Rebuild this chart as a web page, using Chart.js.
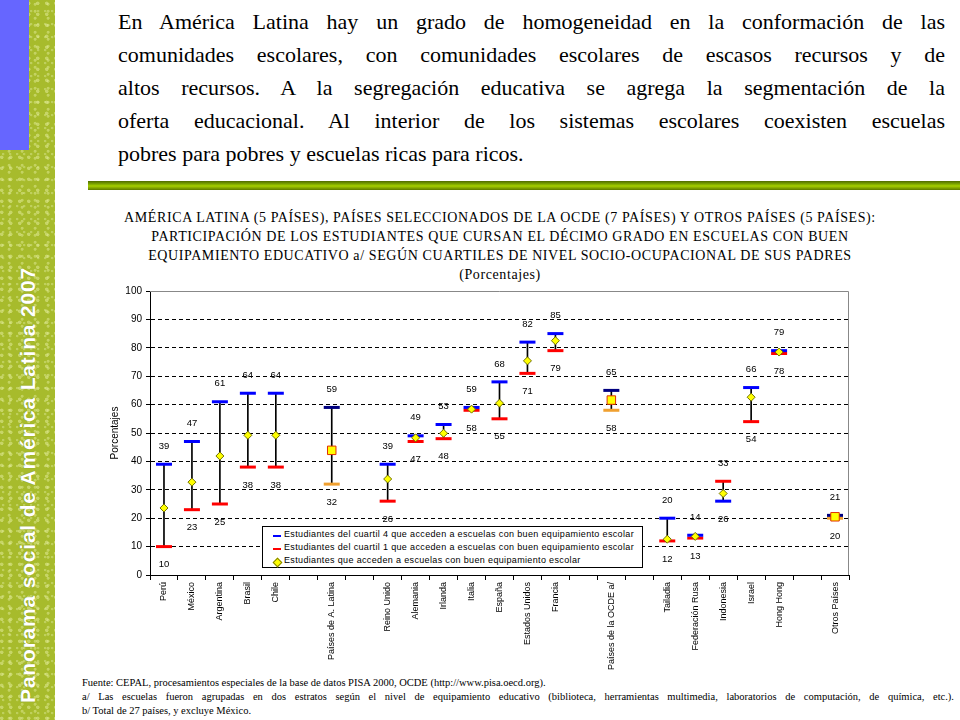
<!DOCTYPE html>
<html>
<head>
<meta charset="utf-8">
<script src="https://cdn.jsdelivr.net/npm/chart.js@4.4.1/dist/chart.umd.min.js"></script>
<style>
  html, body { margin: 0; padding: 0; background: #fff; }
  body { width: 960px; height: 720px; position: relative; overflow: hidden; }
  .abs { position: absolute; }
  .serif { font-family: "Liberation Serif", Tinos, "DejaVu Serif", "Noto Serif", "Times New Roman", Times, serif; }
  #sidebar { left: 0; top: 0; width: 55px; height: 720px; background-color: #A7BB2C;
    background-image:
      radial-gradient(circle at 20% 30%, rgba(225,235,150,0.55) 0 1.5px, transparent 2px),
      radial-gradient(circle at 70% 60%, rgba(225,235,150,0.5) 0 1.2px, transparent 1.8px),
      radial-gradient(circle at 45% 85%, rgba(215,228,140,0.5) 0 1px, transparent 1.6px);
    background-size: 9px 11px, 13px 7px, 7px 13px; }
  #bluebox { left: 0; top: 0; width: 29px; height: 150px; background: #6666FF; }
  #sidetext { left: 28px; top: 485px; transform: translate(-50%, -50%) rotate(-90deg);
    white-space: nowrap; color: #fff; font: bold 21px Arial, "Liberation Sans", sans-serif; letter-spacing: 0.8px;
    text-shadow: 0 0 1px rgba(60,70,0,0.4); }
  #para { left: 118px; top: 5px; width: 827px; font-size: 22px;
    line-height: 33px; color: #000; }
  #para div { white-space: nowrap; }
  #para div.j { text-align: justify; text-align-last: justify; white-space: normal; }
  #rule { left: 88px; top: 181px; width: 872px; height: 9px;
    background: linear-gradient(#4E6A00 0%, #7FA800 35%, #A6D000 55%, #7FA000 80%, #5C7A00 100%); }
  #ctitle { left: 60px; top: 208px; width: 880px; font-size: 14px; letter-spacing: 0.6px;
    line-height: 19px; text-align: center; color: #000; }
  #legend { left: 262px; top: 526px; width: 379px; height: 40px; border: 1px solid #000; background: #fff;
    font: 9px Arial, "Liberation Sans", sans-serif; color: #000; letter-spacing: 0.35px; }
  .lrow { position: absolute; left: 21px; white-space: nowrap; }
  .mk { position: absolute; }
  #notes { left: 82px; top: 676px; width: 872px; font-size: 10.5px;
    line-height: 14px; color: #000; }
  .just { text-align: justify; text-align-last: justify; }
  #chartwrap { left: 90px; top: 280px; width: 770px; height: 390px; }
</style>
</head>
<body>
<div id="sidebar" class="abs"></div>
<div id="bluebox" class="abs"></div>
<div id="sidetext" class="abs">Panorama social de América Latina  2007</div>

<div id="para" class="abs serif">
  <div class="j">En América Latina hay un grado de homogeneidad en la conformación de las</div>
  <div class="j">comunidades escolares, con comunidades escolares de escasos recursos y de</div>
  <div class="j">altos recursos. A la segregación educativa se agrega la segmentación de la</div>
  <div class="j">oferta educacional. Al interior de los sistemas escolares coexisten escuelas</div>
  <div>pobres para pobres y escuelas ricas para ricos.</div>
</div>
<div id="rule" class="abs"></div>

<div id="ctitle" class="abs serif">AMÉRICA LATINA (5 PAÍSES), PAÍSES SELECCIONADOS DE LA OCDE (7 PAÍSES) Y OTROS PAÍSES (5 PAÍSES):<br>PARTICIPACIÓN DE LOS ESTUDIANTES QUE CURSAN EL DÉCIMO GRADO EN ESCUELAS CON BUEN<br>EQUIPAMIENTO EDUCATIVO a/ SEGÚN CUARTILES DE NIVEL SOCIO-OCUPACIONAL DE SUS PADRES<br>(Porcentajes)</div>

<div id="chartwrap" class="abs"><canvas id="c" width="770" height="390"></canvas></div>

<div id="legend" class="abs">
  <div class="mk" style="left:10px;top:8px;width:8px;height:2px;background:#0000FF"></div>
  <div class="lrow" style="top:2px">Estudiantes del cuartil 4 que acceden a escuelas con buen equipamiento escolar</div>
  <div class="mk" style="left:10px;top:21px;width:8px;height:2px;background:#FF0000"></div>
  <div class="lrow" style="top:15px">Estudiantes del cuartil 1 que acceden a escuelas con buen equipamiento escolar</div>
  <div class="mk" style="left:11px;top:32px;width:5px;height:5px;background:#FFFF00;border:1px solid #808000;transform:rotate(45deg)"></div>
  <div class="lrow" style="top:28px">Estudiantes que acceden a escuelas con buen equipamiento escolar</div>
</div>

<div id="notes" class="abs serif">
  <div>Fuente: CEPAL, procesamientos  especiales de la base de datos PISA 2000, OCDE (http://www.pisa.oecd.org).</div>
  <div class="just">a/ Las escuelas  fueron agrupadas en dos estratos según el nivel de equipamiento educativo (biblioteca, herramientas multimedia, laboratorios de computación, de química, etc.).</div>
  <div>b/ Total  de 27 países, y excluye  México.</div>
</div>

<script>
// ---- Data ----
const categories = ['Perú','México','Argentina','Brasil','Chile','','Países de A. Latina','','Reino Unido','Alemania','Irlanda','Italia','España','Estados Unidos','Francia','','Países de la OCDE a/','','Tailadia','Federación Rusa','Indonesia','Israel','Hong Hong','','Otros Países'];
const cuartil4 = [39,47,61,64,64,null,59,null,39,49,53,59,68,82,85,null,65,null,20,14,26,66,79,null,21];
const cuartil1 = [10,23,25,38,38,null,32,null,26,47,48,58,55,71,79,null,58,null,12,13,33,54,78,null,20];
const totalEstudiantes = [23.6,32.7,41.9,49.2,49.2,null,43.9,null,33.8,48.3,49.9,58.4,60.5,75.4,82.5,null,61.6,null,12.6,13.6,28.7,62.6,78.5,null,20.5];
const aggregates = ['Países de A. Latina','Países de la OCDE a/','Otros Países'];
const yTicks = [0,10,20,30,40,50,60,70,80,90,100];

const isAgg = i => aggregates.includes(categories[i]);
const ranges = categories.map((_, i) => cuartil4[i] == null ? null : [Math.min(cuartil1[i], cuartil4[i]), Math.max(cuartil1[i], cuartil4[i])]);

const SANS = 'Arial, "Liberation Sans", sans-serif';

const labelPlugin = {
  id: 'valueLabels',
  afterDatasetsDraw(chart) {
    const {ctx, scales: {x, y}} = chart;
    ctx.save();
    ctx.font = '9.5px ' + SANS;
    ctx.fillStyle = '#000';
    ctx.textAlign = 'center';
    ctx.textBaseline = 'middle';
    ranges.forEach((r, i) => {
      if (!r) return;
      const px = x.getPixelForValue(i);
      ctx.fillText(String(r[1]), px, y.getPixelForValue(r[1]) - 18);
      ctx.fillText(String(r[0]), px, y.getPixelForValue(r[0]) + 18);
    });
    ctx.restore();
  },
  beforeDatasetsDraw(chart) {
    const {ctx, chartArea: a} = chart;
    ctx.save();
    ctx.strokeStyle = '#888';
    ctx.lineWidth = 1;
    ctx.beginPath();
    ctx.moveTo(a.left, a.top + 0.5);
    ctx.lineTo(a.right - 0.5, a.top + 0.5);
    ctx.lineTo(a.right - 0.5, a.bottom);
    ctx.stroke();
    ctx.restore();
  }
};

new Chart(document.getElementById('c'), {
  type: 'bar',
  data: {
    labels: categories,
    datasets: [
      {
        type: 'line', label: 'total', data: totalEstudiantes, showLine: false, order: 0,
        pointStyle: categories.map((_, i) => isAgg(i) ? 'rect' : 'rectRot'),
        pointRadius: categories.map((_, i) => isAgg(i) ? 6 : 4),
        pointBackgroundColor: '#FFFF00',
        pointBorderColor: categories.map((_, i) => isAgg(i) ? '#E03000' : '#707000'),
        pointBorderWidth: 1
      },
      {
        type: 'line', label: 'cuartil4', data: cuartil4, showLine: false, order: 1,
        pointStyle: 'line', pointRadius: 8, pointBorderWidth: 3,
        pointBorderColor: categories.map((_, i) => isAgg(i) ? '#000080' : '#0000FF')
      },
      {
        type: 'line', label: 'cuartil1', data: cuartil1, showLine: false, order: 2,
        pointStyle: 'line', pointRadius: 8, pointBorderWidth: 3,
        pointBorderColor: categories.map((_, i) => isAgg(i) ? '#F0A030' : '#FF0000')
      },
      {
        type: 'bar', label: 'rango', data: ranges, order: 3,
        backgroundColor: '#000', barThickness: 1, borderWidth: 0, grouped: false
      }
    ]
  },
  options: {
    responsive: false,
    animation: false,
    events: [],
    layout: { padding: { left: 5, top: 10, right: 5, bottom: 0 } },
    plugins: { legend: { display: false }, tooltip: { enabled: false } },
    scales: {
      x: {
        type: 'category', offset: true,
        afterFit: s => { s.height = 95; },
        grid: { offset: true, drawOnChartArea: false, drawTicks: true, tickLength: 5, color: '#000', tickColor: '#000' },
        border: { color: '#000', width: 1 },
        ticks: { autoSkip: false, maxRotation: 90, minRotation: 90, padding: 2, color: '#000', font: { family: SANS, size: 9 } }
      },
      y: {
        min: 0, max: 100,
        afterFit: s => { s.width = 55; },
        afterBuildTicks: s => { s.ticks = yTicks.map(v => ({ value: v })); },
        title: { display: true, text: 'Porcentajes', color: '#000', font: { family: SANS, size: 10 }, padding: { top: 14, bottom: 0 } },
        grid: {
          color: c => (c.tick && (c.tick.value === 0 || c.tick.value === 100)) ? 'rgba(0,0,0,0)' : '#000',
          tickColor: '#000', tickLength: 4, lineWidth: 1, drawTicks: true
        },
        border: { color: '#000', width: 1, dash: [4, 3] },
        ticks: { color: '#000', padding: 4, font: { family: SANS, size: 10 } }
      }
    }
  },
  plugins: [labelPlugin]
});
</script>
</body>
</html>
